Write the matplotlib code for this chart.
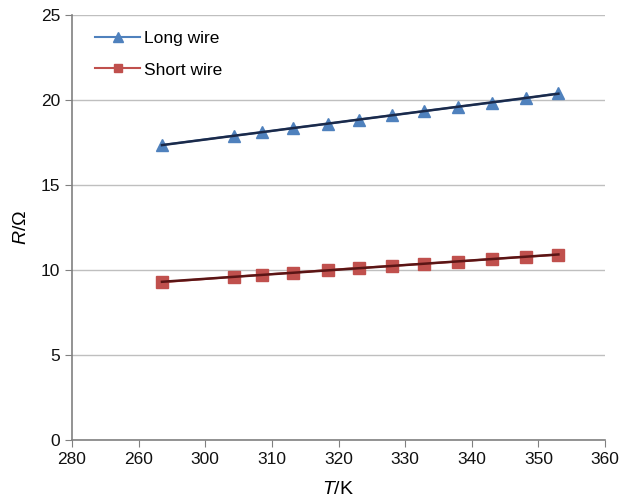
import numpy as np
import matplotlib
matplotlib.use("Agg")
import matplotlib.pyplot as plt

plt.rcParams['font.family'] = ['Liberation Sans', 'DejaVu Sans']
plt.rcParams['mathtext.fontset'] = 'custom'
plt.rcParams['mathtext.rm'] = 'Liberation Sans'
plt.rcParams['mathtext.it'] = 'Liberation Sans:italic'

T = [293.5, 304.3, 308.5, 313.1, 318.4, 323.0, 328.0, 332.9, 337.9, 343.1, 348.1, 353.0]
R_long = [17.35, 17.9, 18.1, 18.35, 18.6, 18.85, 19.1, 19.35, 19.6, 19.85, 20.1, 20.4]
R_short = [9.28, 9.6, 9.72, 9.84, 10.0, 10.12, 10.24, 10.37, 10.5, 10.65, 10.78, 10.9]
x_ticks = [280, 290, 300, 310, 320, 330, 340, 350, 360]
x_tick_labels = ['280', '260', '300', '310', '320', '330', '340', '350', '360']
y_ticks = [0, 5, 10, 15, 20, 25]

fig = plt.figure(figsize=(6.22, 5.03), dpi=100)
ax = fig.add_axes([0.1158, 0.1252, 0.8569, 0.8450])

blue = '#4F81BD'
red = '#C0504D'

ax.plot(T, R_long, color=blue, lw=1.5, marker='^', ms=9, mec=blue, mfc=blue, label='Long wire', zorder=3)
ax.plot(T, R_short, color=red, lw=1.5, marker='s', ms=8, mec=red, mfc=red, label='Short wire', zorder=3)

Ta = np.array(T)
p1 = np.polyfit(Ta, R_long, 1)
p2 = np.polyfit(Ta, R_short, 1)
ax.plot(Ta, np.polyval(p1, Ta), color='#1B2A4A', lw=1.8, zorder=4)
ax.plot(Ta, np.polyval(p2, Ta), color='#5A1515', lw=1.8, zorder=4)

ax.set_xlim(280, 360)
ax.set_ylim(0, 25)
ax.set_xticks(x_ticks)
ax.set_xticklabels(x_tick_labels)
ax.set_yticks(y_ticks)
ax.yaxis.grid(True, color='#BFBFBF', lw=1)
ax.set_axisbelow(True)
for s in ['top', 'right']:
    ax.spines[s].set_visible(False)
for s in ['left', 'bottom']:
    ax.spines[s].set_color('#808080')
    ax.spines[s].set_linewidth(1.2)
ax.tick_params(axis='both', direction='out', length=5, color='#808080', labelsize=12.5, labelcolor='#111111')

ax.set_xlabel('$\\mathit{T}$/K', fontsize=14, labelpad=10)
ax.set_ylabel('$\\mathit{R}$/Ω', fontsize=14, labelpad=8)

ax.legend(loc='upper left', bbox_to_anchor=(0.128, 0.97), bbox_transform=fig.transFigure,
          frameon=False, fontsize=12.5, handlelength=2.6, handletextpad=0.2, labelspacing=0.95,
          markerscale=0.75)

fig.savefig('out.png', dpi=100)
